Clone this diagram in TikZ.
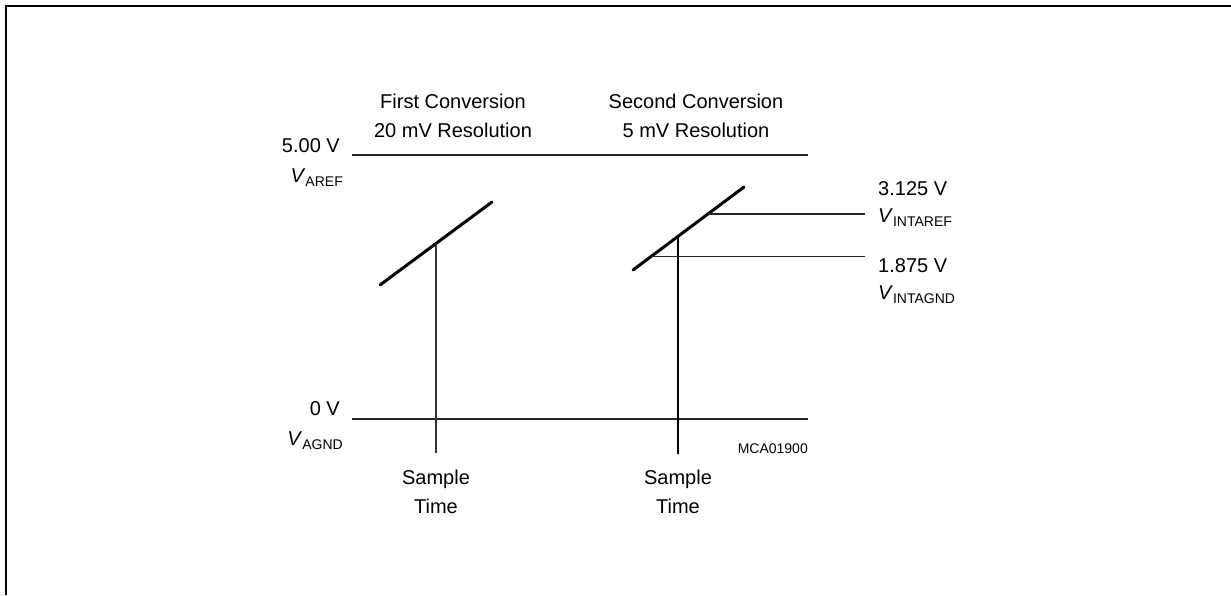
\documentclass[tikz,border=0pt]{standalone}
\usepackage{fontspec}
\setmainfont{Liberation Sans}
\usetikzlibrary{positioning, calc}
\tikzset{
    lbl/.style={font=\fontsize{20}{29}\selectfont, inner sep=0pt, align=center},
    tag/.style={font=\fontsize{14}{16}\selectfont, inner sep=0pt},
    level/.style={line width=1.5pt, black!85},
    ramp/.style={line width=3pt, black, line cap=round},
    sample/.style={line width=1.5pt, black!80},
    frame/.style={line width=2pt}
}
\newcommand{\vname}[1]{\textit{V}\raisebox{-0.2em}{\fontsize{14}{16}\selectfont #1}}

\begin{document}
\begin{tikzpicture}[x=1pt, y=-1pt]
        \useasboundingbox (0,0) rectangle (1231,595);
        \draw [frame] (6,595) -- (6,6) -- (1231,6);

        % Levels
        \coordinate (arefL) at (352,155);
        \coordinate (arefR) at (808,155);
        \coordinate (agndL) at (352,419);
        \coordinate (agndR) at (808,419);
        \draw [level] (arefL) -- (arefR);
        \draw [level] (agndL) -- (agndR);

        % Ramps
        \coordinate (rampAa) at (380,285);
        \coordinate (rampAb) at (492,202);
        \coordinate (rampBa) at (633,270);
        \coordinate (rampBb) at (744,187);
        \draw [ramp] (rampAa) -- (rampAb);
        \draw [ramp] (rampBa) -- (rampBb);

        % Sample points
        \coordinate (sampA) at ($(rampAa)!0.5!(rampAb)$);
        \coordinate (sampB) at ($(rampBa)!0.405!(rampBb)$);
        \coordinate (sampAend) at (436,453);
        \coordinate (sampBend) at (678,454);
        \draw [sample] (sampA) -- (sampA |- sampAend);
        \draw [sample, line width=2.4pt, black] (sampB) -- (sampB |- sampBend);

        % Internal references
        \coordinate (intref) at ($(rampBa)!0.675!(rampBb)$);
        \coordinate (intgnd) at ($(rampBa)!0.16!(rampBb)$);
        \coordinate (intrefR) at (865,214);
        \coordinate (intgndR) at (865,257);
        \draw [level] (intref) -- (intref -| intrefR);
        \draw [level] (intgnd) -- (intgnd -| intgndR);

        % Labels
        \node (first) [lbl, anchor=north] at (453,94) {First Conversion\\20 mV Resolution};
        \node (second) [lbl, anchor=north] at (696,94) {Second Conversion\\5 mV Resolution};
        \node (fivev) [lbl, anchor=base east] at (340,152) {5.00 V};
        \node (varef) [lbl, anchor=base east] at (343,182) {\vname{AREF}};
        \node (zerov) [lbl, anchor=base east] at (340,415) {0 V};
        \node (vagnd) [lbl, anchor=base east] at (343,445) {\vname{AGND}};
        \node (hiv) [lbl, anchor=base west] at (878,195) {3.125 V};
        \node (vintref) [lbl, anchor=base west] at (878,222) {\vname{INTAREF}};
        \node (lov) [lbl, anchor=base west] at (878,272) {1.875 V};
        \node (vintgnd) [lbl, anchor=base west] at (878,299) {\vname{INTAGND}};
        \node (timeA) [lbl, anchor=north] at (436,470) {Sample\\Time};
        \node (timeB) [lbl, anchor=north] at (678,470) {Sample\\Time};
        \node (code) [tag, anchor=base east] at (808,453) {MCA01900};
    \end{tikzpicture}
\end{document}
